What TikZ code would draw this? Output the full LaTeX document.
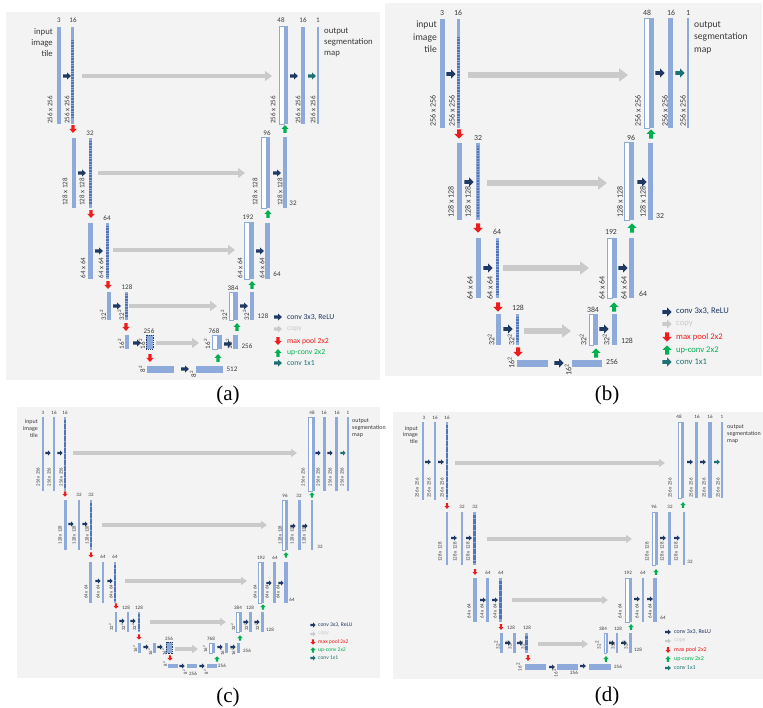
\documentclass[tikz,border=0pt]{standalone}
\usepackage{fontspec}
\setmainfont{Carlito}
\newfontfamily\capfont{Liberation Serif}
\usetikzlibrary{arrows.meta}

\definecolor{panelbg}{HTML}{F3F3F3}
\definecolor{featblue}{HTML}{8EAADB}
\definecolor{beadblue}{HTML}{4F74B8}
\definecolor{convnavy}{HTML}{1F3864}
\definecolor{copygray}{HTML}{CACACA}
\definecolor{poolred}{HTML}{EE1C1C}
\definecolor{upgreen}{HTML}{00B050}
\definecolor{finalteal}{HTML}{1D7373}
\definecolor{labelgray}{HTML}{3A3A3A}

% block arrow: colour, x, y, angle, scale
\newcommand\blk[5]{\fill[#1,shift={(#2,#3)},rotate=#4,scale=#5]
  (-4.5,-1.9) -- (0,-1.9) -- (0,-4.3) -- (4.5,0) -- (0,4.3) -- (0,1.9) -- (-4.5,1.9) -- cycle;}

\tikzset{
    panel/.style={fill=panelbg},
    feat/.style={fill=featblue},
    concat/.style={fill=white, draw=featblue, line width=0.4pt},
    beads/.style={draw=beadblue, line width=2.8pt, dash pattern=on 1pt off 0.6pt},
    hatchbox/.style={fill=featblue, draw=convnavy, line width=0.5pt, dash pattern=on 1pt off 0.8pt},
    skipline/.style={draw=copygray, line width=4.5pt, -{Triangle[length=7pt,width=10pt]}},
    chlabel/.style={text=labelgray, inner sep=0pt},
    sizelabel/.style={text=labelgray, inner sep=0pt, rotate=90},
    txt/.style={text=labelgray, inner sep=0pt},
    leg/.style={inner sep=0pt, anchor=west},
    panelcap/.style={font=\capfont\fontsize{21}{21}\selectfont, inner sep=0pt},
}

\begin{document}
\begin{tikzpicture}[x=1pt, y=-1pt]
\useasboundingbox (0,0) rectangle (763,708);

% ---------------- (a) ----------------
\begin{scope}[chlabel/.append style={font=\fontsize{7}{8}\selectfont},
    sizelabel/.append style={font=\fontsize{7}{8}\selectfont},
    txt/.append style={font=\fontsize{8.7}{11}\selectfont},
    leg/.append style={font=\fontsize{7.7}{9}\selectfont}]
    \fill[panel] (6,12) rectangle (380,380);
    \foreach \xa/\ya/\xb/\yb in {279/26/284/124, 261/137/266/208, 244/222/249/279,
        229/292/233/320, 212/335/217/349}
        \filldraw[concat] (\xa,\ya) rectangle (\xb,\yb);
    \foreach \xa/\ya/\xb/\yb in {57/27/61/124, 71/27/74/124, 284/26/288/124, 301/27/305/124,
        317/27/319/124, 72/138/76/208, 89/138/92/208, 266/137/270/208, 283/137/287/208,
        88/223/93/279, 106/223/109/279, 249/222/254/279, 265/223/270/279,
        107/292/111/320, 125/292/128/320, 233/292/238/320, 250/292/254/320,
        125/335/129/349, 217/335/222/349, 233/335/238/349, 147/366/174/373, 196/366/223/373}
        \fill[feat] (\xa,\ya) rectangle (\xb,\yb);
    \filldraw[hatchbox] (146,335) rectangle (153,349);
    \foreach \xa/\ya/\yb in {72.5/40/117, 90.5/141/205, 107.5/226/276, 126.5/294/318}
        \draw[beads] (\xa,\ya) -- (\xa,\yb);
    \foreach \xa/\xb/\ya in {82/272/76, 98/245/173, 113/235/250, 129/217/306, 156/199/343}
        \draw[skipline] (\xa,\ya) -- (\xb,\ya);
    \foreach \xa/\ya in {67/76, 294/76, 82/173, 277/173, 99/251, 260/251, 117/306, 244/306,
        137/343, 228/344, 185/369, 278/317}
        {\blk{convnavy}{\xa}{\ya}{0}{0.85}}
    \foreach \xa/\ya in {73/129, 91/214, 108/285, 126/327, 150/358, 278/341}
        {\blk{poolred}{\xa}{\ya}{-90}{0.85}}
    \foreach \xa/\ya in {285/129, 268/214, 252/285, 237/327, 218/358, 278/353}
        {\blk{upgreen}{\xa}{\ya}{90}{0.85}}
    \blk{finalteal}{312}{76}{0}{0.85}
    \blk{finalteal}{278}{363}{0}{0.85}
    \blk{copygray}{278}{329}{0}{0.85}
    \foreach \xa/\ya/\lab [count=\k] in {59/20/3, 73/20/16, 281/20/48, 303/20/16, 318/20/1,
        90/133/32, 267/133/96, 293/203/32, 107/218/64, 248/217/192, 277/274/64,
        127/287/128, 233/288/384, 263/316/128, 149/331/256, 214/331/768, 247/346/256,
        232/369/512}
        \node[chlabel] (a-n\k) at (\xa,\ya) {\lab};
    \foreach \xa/\ya/\lab [count=\k] in {50/110/256 x 256, 67/110/256 x 256, 273/110/256 x 256,
        298/110/256 x 256, 313/110/256 x 256, 65/192/128 x 128, 82/192/128 x 128,
        255/192/128 x 128, 280/192/128 x 128, 83/268/64 x 64, 101/268/64 x 64,
        240/268/64 x 64, 262/268/64 x 64, 103/315/32\textsuperscript{2},
        121/315/32\textsuperscript{2}, 224/315/32\textsuperscript{2},
        246/315/32\textsuperscript{2}, 121/344/16\textsuperscript{2},
        142/344/16\textsuperscript{2}, 207/344/16\textsuperscript{2},
        229/344/16\textsuperscript{2}, 142/369/8\textsuperscript{2}, 193/374/8\textsuperscript{2}}
        \node[sizelabel] (a-d\k) at (\xa,\ya) {\lab};
    \node[txt, align=right, anchor=north east] (a-in) at (53,28) {input\\image\\tile};
    \node[txt, align=left, anchor=north west] (a-out) at (324,28) {output\\segmentation\\map};
    \node[leg, text=convnavy] (a-l1) at (287,317) {conv 3x3, ReLU};
    \node[leg, text=copygray] (a-l2) at (287,329) {copy};
    \node[leg, text=poolred] (a-l3) at (287,341) {max pool 2x2};
    \node[leg, text=upgreen] (a-l4) at (287,353) {up-conv 2x2};
    \node[leg, text=finalteal] (a-l5) at (287,363) {conv 1x1};
    \node[panelcap] (a-cap) at (228,395) {(a)};
\end{scope}

% ---------------- (b) ----------------
\begin{scope}[chlabel/.append style={font=\fontsize{7.8}{9}\selectfont},
    sizelabel/.append style={font=\fontsize{8}{9}\selectfont},
    txt/.append style={font=\fontsize{9.6}{12.5}\selectfont},
    leg/.append style={font=\fontsize{8.6}{10}\selectfont},
    skipline/.append style={line width=5.5pt, -{Triangle[length=9pt,width=13pt]}}]
    \fill[panel] (385,3) rectangle (762,376);
    \foreach \xa/\ya/\xb/\yb in {644/18/649/128, 624/142/629/220, 607/238/612/298,
        589/314/593/345}
        \filldraw[concat] (\xa,\ya) rectangle (\xb,\yb);
    \foreach \xa/\ya/\xb/\yb in {440/19/445/128, 457/19/460/128, 649/18/654/128,
        668/18/673/128, 687/18/689/128, 457/143/462/220, 476/143/480/220, 629/142/634/220,
        648/143/653/220, 476/238/481/298, 496/238/499/298, 612/238/617/298, 629/238/634/298,
        496/314/501/345, 516/314/519/345, 593/314/598/345, 612/314/617/345,
        517/360/548/367, 572/360/602/367}
        \fill[feat] (\xa,\ya) rectangle (\xb,\yb);
    \foreach \xa/\ya/\yb in {458.5/37/123, 478/146/217, 497.5/241/295, 517.5/317/342}
        \draw[beads] (\xa,\ya) -- (\xa,\yb);
    \foreach \xa/\xb/\ya in {468/628/75, 487/607/183, 503/589/268, 524/571/331}
        \draw[skipline] (\xa,\ya) -- (\xb,\ya);
    \foreach \xa/\ya in {451/74, 660/73, 469/182, 642/182, 488/268, 623/268, 508/329,
        604/329, 559/363, 667/312}
        {\blk{convnavy}{\xa}{\ya}{0}{1.05}}
    \foreach \xa/\ya in {459/134, 478/228, 498/307, 518/352, 667/337}
        {\blk{poolred}{\xa}{\ya}{-90}{1.05}}
    \foreach \xa/\ya in {651/134, 632/228, 614/307, 596/353, 667/350}
        {\blk{upgreen}{\xa}{\ya}{90}{1.05}}
    \blk{finalteal}{680}{73}{0}{1.05}
    \blk{finalteal}{667}{362}{0}{1.05}
    \blk{copygray}{667}{324}{0}{1.05}
    \foreach \xa/\ya/\lab [count=\k] in {442/13/3, 458/13/16, 647/13/48, 671/13/16, 688/13/1,
        478/138/32, 631/138/96, 660/216/32, 497/232/64, 611/232/192, 643/294/64,
        518/308/128, 593/310/384, 627/341/128, 612/362/256}
        \node[chlabel] (b-n\k) at (\xa,\ya) {\lab};
    \foreach \xa/\ya/\lab [count=\k] in {433/111/256 x 256, 452/111/256 x 256,
        638/111/256 x 256, 665/111/256 x 256, 683/111/256 x 256, 451/202/128 x 128,
        468/202/128 x 128, 620/202/128 x 128, 643/202/128 x 128, 470/288/64 x 64,
        490/288/64 x 64, 602/288/64 x 64, 624/288/64 x 64, 491/340/32\textsuperscript{2},
        511/340/32\textsuperscript{2}, 583/340/32\textsuperscript{2},
        606/340/32\textsuperscript{2}, 511/363/16\textsuperscript{2},
        568/370/16\textsuperscript{2}}
        \node[sizelabel] (b-d\k) at (\xa,\ya) {\lab};
    \node[txt, align=right, anchor=north east] (b-in) at (437,21) {input\\image\\tile};
    \node[txt, align=left, anchor=north west] (b-out) at (694,21) {output\\segmentation\\map};
    \node[leg, text=convnavy] (b-l1) at (676,311) {conv 3x3, ReLU};
    \node[leg, text=copygray] (b-l2) at (676,324) {copy};
    \node[leg, text=poolred] (b-l3) at (676,337) {max pool 2x2};
    \node[leg, text=upgreen] (b-l4) at (676,350) {up-conv 2x2};
    \node[leg, text=finalteal] (b-l5) at (676,362) {conv 1x1};
    \node[panelcap] (b-cap) at (607,395) {(b)};
\end{scope}

% ---------------- (c) ----------------
\begin{scope}[chlabel/.append style={font=\fontsize{5}{6}\selectfont},
    sizelabel/.append style={font=\fontsize{4.8}{6}\selectfont},
    txt/.append style={font=\fontsize{6}{6.9}\selectfont},
    leg/.append style={font=\fontsize{5.6}{7}\selectfont},
    beads/.append style={line width=2.2pt, dash pattern=on 0.7pt off 0.5pt},
    hatchbox/.append style={line width=0.4pt},
    skipline/.append style={line width=3.5pt, -{Triangle[length=6pt,width=8pt]}}]
    \fill[panel] (17,407) rectangle (380,678);
    \foreach \xa/\ya/\xb/\yb in {308/417/312/491, 282/500/285/550, 258/562/261/603,
        236/612/239/632, 209/643/212/653}
        \filldraw[concat] (\xa,\ya) rectangle (\xb,\yb);
    \foreach \xa/\ya/\xb/\yb in {42/417/44/491, 53/417/55/491, 64/417/66/491,
        312/417/315/491, 323/417/326/491, 335/417/338/491, 347/417/349/491,
        64/500/67/550, 78/500/80/550, 90/500/92/550, 285/500/288/550, 298/500/301/550,
        311/500/313/550, 89/562/92/603, 102/562/104/603, 114/562/116/603, 261/562/264/603,
        273/562/276/603, 284/562/288/603, 115/612/117/632, 127/612/129/632,
        138/612/140/632, 239/612/242/632, 249/612/252/632, 261/612/264/632,
        138/643/141/653, 153/643/156/653, 212/643/215/653, 225/643/228/653,
        237/643/240/653, 168/664/178/668, 187/664/197/668, 207/664/217/668}
        \fill[feat] (\xa,\ya) rectangle (\xb,\yb);
    \filldraw[hatchbox] (166,642) rectangle (172,653);
    \foreach \xa/\ya/\yb in {65/420/488, 91/503/547, 115/565/600, 139/614/630}
        \draw[beads] (\xa,\ya) -- (\xa,\yb);
    \foreach \xa/\xb/\ya in {73/297/453, 102/267/525, 125/247/581, 150/226/622, 175/198/649}
        \draw[skipline] (\xa,\ya) -- (\xb,\ya);
    \foreach \xa/\ya in {48/453, 60/453, 318/453, 330/453, 71/524, 85/524, 293/526, 305/526,
        98/581, 110/581, 269/583, 281/583, 122/621, 133/621, 246/622, 257/622,
        146/647, 160/647, 220/647, 233/647, 182/666, 202/666, 313/625}
        {\blk{convnavy}{\xa}{\ya}{0}{0.6}}
    \foreach \xa/\ya in {65/494, 91/555, 116/606, 139/637, 170/658, 313/642}
        {\blk{poolred}{\xa}{\ya}{-90}{0.6}}
    \foreach \xa/\ya in {312/495, 286/555, 263/607, 240/638, 217/659, 313/650}
        {\blk{upgreen}{\xa}{\ya}{90}{0.6}}
    \blk{finalteal}{343}{453}{0}{0.6}
    \blk{finalteal}{313}{658}{0}{0.6}
    \blk{copygray}{313}{634}{0}{0.6}
    \foreach \xa/\ya/\lab [count=\k] in {43/413/3, 54/413/16, 65/413/16, 312/413/48,
        324/413/16, 337/413/16, 348/413/1, 79/495/32, 91/495/32, 285/496/96, 299/496/32,
        320/547/32, 103/557/64, 115/557/64, 261/558/192, 275/558/64, 292/600/64,
        126/608/128, 139/608/128, 238/608/384, 250/608/128, 270/630/128, 169/639/256,
        211/639/768, 247/651/256, 222/666/256, 193/674/256}
        \node[chlabel] (c-n\k) at (\xa,\ya) {\lab};
    \foreach \xa/\ya/\lab [count=\k] in {38/477/256 x 256, 49/477/256 x 256, 61/477/256 x 256,
        303/477/256 x 256, 318/477/256 x 256, 330/477/256 x 256, 342/477/256 x 256,
        60/535/128 x 128, 74/535/128 x 128, 87/535/128 x 128, 280/535/128 x 128,
        292/535/128 x 128, 304/535/128 x 128, 86/592/64 x 64, 98/592/64 x 64,
        111/592/64 x 64, 255/592/64 x 64, 267/592/64 x 64, 278/592/64 x 64,
        111/627/32\textsuperscript{2}, 123/627/32\textsuperscript{2},
        134/627/32\textsuperscript{2}, 233/627/32\textsuperscript{2},
        246/627/32\textsuperscript{2}, 257/627/32\textsuperscript{2},
        135/649/16\textsuperscript{2}, 150/652/16\textsuperscript{2},
        164/652/16\textsuperscript{2}, 205/649/16\textsuperscript{2},
        222/652/16\textsuperscript{2}, 233/652/16\textsuperscript{2},
        165/664/8\textsuperscript{2}, 185/672/8\textsuperscript{2},
        206/672/8\textsuperscript{2}}
        \node[sizelabel] (c-d\k) at (\xa,\ya) {\lab};
    \node[txt, align=right, anchor=north east] (c-in) at (38,419) {input\\image\\tile};
    \node[txt, align=left, anchor=north west] (c-out) at (352,419) {output\\segmentation\\map};
    \node[leg, text=convnavy] (c-l1) at (318,625) {conv 3x3, ReLU};
    \node[leg, text=copygray] (c-l2) at (318,634) {copy};
    \node[leg, text=poolred] (c-l3) at (318,642) {max pool 2x2};
    \node[leg, text=upgreen] (c-l4) at (318,650) {up-conv 2x2};
    \node[leg, text=finalteal] (c-l5) at (318,658) {conv 1x1};
    \node[panelcap] (c-cap) at (228,697) {(c)};
\end{scope}

% ---------------- (d) ----------------
\begin{scope}[chlabel/.append style={font=\fontsize{5}{6}\selectfont},
    sizelabel/.append style={font=\fontsize{5}{6}\selectfont},
    txt/.append style={font=\fontsize{6}{6.6}\selectfont},
    leg/.append style={font=\fontsize{6}{7}\selectfont},
    beads/.append style={line width=2.2pt, dash pattern=on 0.7pt off 0.5pt},
    skipline/.append style={line width=3.5pt, -{Triangle[length=6pt,width=8pt]}}]
    \fill[panel] (393,412) rectangle (763,679);
    \foreach \xa/\ya/\xb/\yb in {678/422/681/498, 652/512/655/565, 625/578/629/622,
        604/633/606/653}
        \filldraw[concat] (\xa,\ya) rectangle (\xb,\yb);
    \foreach \xa/\ya/\xb/\yb in {422/422/424/500, 434/422/436/500, 446/422/448/500,
        681/422/684/498, 695/422/698/498, 708/422/712/498, 721/422/723/498,
        446/512/448/565, 461/512/463/565, 473/512/476/565, 655/512/658/565,
        668/512/671/565, 683/512/685/565, 473/578/477/622, 486/578/489/622,
        499/578/502/622, 629/578/632/622, 642/578/644/622, 653/578/657/622,
        500/633/503/653, 513/633/516/653, 525/633/528/653, 606/633/608/653,
        616/633/618/653, 629/633/632/653, 525/664/546/670, 557/664/578/670,
        589/664/611/670}
        \fill[feat] (\xa,\ya) rectangle (\xb,\yb);
    \foreach \xa/\ya/\yb in {447/425/497, 474.5/515/562, 500.5/581/619, 526.5/636/650}
        \draw[beads] (\xa,\ya) -- (\xa,\yb);
    \foreach \xa/\xb/\ya in {455/665/463, 487/632/539, 512/608/600, 538/588/644}
        \draw[skipline] (\xa,\ya) -- (\xb,\ya);
    \foreach \xa/\ya in {428/462, 441/462, 690/462, 703/462, 454/538, 469/538, 663/538,
        677/538, 483/600, 495/600, 637/599, 650/599, 508/643, 520/643, 612/643, 624/643,
        552/667, 583/666, 668/632}
        {\blk{convnavy}{\xa}{\ya}{0}{0.62}}
    \foreach \xa/\ya in {447/506, 475/572, 501/627, 528/658, 668/650}
        {\blk{poolred}{\xa}{\ya}{-90}{0.62}}
    \foreach \xa/\ya in {683/505, 656/572, 631/627, 606/659, 668/659}
        {\blk{upgreen}{\xa}{\ya}{90}{0.62}}
    \blk{finalteal}{717}{462}{0}{0.62}
    \blk{finalteal}{668}{668}{0}{0.62}
    \blk{copygray}{668}{641}{0}{0.62}
    \foreach \xa/\ya/\lab [count=\k] in {424/418/3, 435/418/16, 447/418/16, 679/417/48,
        697/417/16, 710/417/16, 722/417/1, 462/507/32, 475/507/32, 654/507/96, 670/507/32,
        690/562/32, 488/573/64, 501/573/64, 628/573/192, 643/573/64, 663/618/64,
        511/628/128, 527/628/128, 603/629/384, 618/629/128, 638/650/128, 574/673/256,
        618/667/256}
        \node[chlabel] (d-n\k) at (\xa,\ya) {\lab};
    \foreach \xa/\ya/\lab [count=\k] in {417/488/256 x 256, 429/488/256 x 256,
        442/488/256 x 256, 670/488/256 x 256, 691/488/256 x 256, 704/488/256 x 256,
        718/488/256 x 256, 440/552/128 x 128, 455/552/128 x 128, 468/552/128 x 128,
        647/552/128 x 128, 662/552/128 x 128, 676/552/128 x 128, 469/611/64 x 64,
        482/611/64 x 64, 495/611/64 x 64, 620/611/64 x 64, 637/611/64 x 64,
        650/611/64 x 64, 497/645/32\textsuperscript{2}, 509/645/32\textsuperscript{2},
        522/645/32\textsuperscript{2}, 598/645/32\textsuperscript{2},
        612/645/32\textsuperscript{2}, 625/645/32\textsuperscript{2},
        519/667/16\textsuperscript{2}, 555/673/16\textsuperscript{2}}
        \node[sizelabel] (d-d\k) at (\xa,\ya) {\lab};
    \node[txt, align=right, anchor=north east] (d-in) at (418,426) {input\\image\\tile};
    \node[txt, align=left, anchor=north west] (d-out) at (727,425) {output\\segmentation\\map};
    \node[leg, text=convnavy] (d-l1) at (674,632) {conv 3x3, ReLU};
    \node[leg, text=copygray] (d-l2) at (674,641) {copy};
    \node[leg, text=poolred] (d-l3) at (674,650) {max pool 2x2};
    \node[leg, text=upgreen] (d-l4) at (674,659) {up-conv 2x2};
    \node[leg, text=finalteal] (d-l5) at (674,668) {conv 1x1};
    \node[panelcap] (d-cap) at (607,696) {(d)};
\end{scope}

\end{tikzpicture}
\end{document}
